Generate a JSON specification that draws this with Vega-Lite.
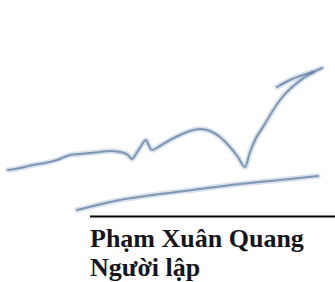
{
  "$schema": "https://vega.github.io/schema/vega-lite/v6.json",
  "width": 335,
  "height": 282,
  "padding": 0,
  "autosize": {"type": "none"},
  "background": "white",
  "config": {"view": {"stroke": null}},
  "datasets": {
    "sig": [
      {"s": "a", "i": 1, "x": 8, "y": 170},
      {"s": "a", "i": 2, "x": 20, "y": 168},
      {"s": "a", "i": 3, "x": 33, "y": 165},
      {"s": "a", "i": 4, "x": 45, "y": 163},
      {"s": "a", "i": 5, "x": 57, "y": 160},
      {"s": "a", "i": 6, "x": 70, "y": 155},
      {"s": "a", "i": 7, "x": 80, "y": 154},
      {"s": "a", "i": 8, "x": 90, "y": 153},
      {"s": "a", "i": 9, "x": 100, "y": 152},
      {"s": "a", "i": 10, "x": 110, "y": 151},
      {"s": "a", "i": 11, "x": 120, "y": 152},
      {"s": "a", "i": 12, "x": 128, "y": 155},
      {"s": "a", "i": 13, "x": 132, "y": 159},
      {"s": "a", "i": 14, "x": 136, "y": 154},
      {"s": "a", "i": 15, "x": 141, "y": 146},
      {"s": "a", "i": 16, "x": 146, "y": 140},
      {"s": "a", "i": 17, "x": 149, "y": 146},
      {"s": "a", "i": 18, "x": 152, "y": 150},
      {"s": "a", "i": 19, "x": 160, "y": 146},
      {"s": "a", "i": 20, "x": 170, "y": 140},
      {"s": "a", "i": 21, "x": 180, "y": 135},
      {"s": "a", "i": 22, "x": 190, "y": 131},
      {"s": "a", "i": 23, "x": 200, "y": 129},
      {"s": "a", "i": 24, "x": 210, "y": 131},
      {"s": "a", "i": 25, "x": 220, "y": 137},
      {"s": "a", "i": 26, "x": 230, "y": 147},
      {"s": "a", "i": 27, "x": 238, "y": 157},
      {"s": "a", "i": 28, "x": 245, "y": 167},
      {"s": "a", "i": 29, "x": 250, "y": 152},
      {"s": "a", "i": 30, "x": 256, "y": 138},
      {"s": "a", "i": 31, "x": 263, "y": 127},
      {"s": "a", "i": 32, "x": 272, "y": 112},
      {"s": "a", "i": 33, "x": 280, "y": 100},
      {"s": "a", "i": 34, "x": 290, "y": 89},
      {"s": "a", "i": 35, "x": 297, "y": 83},
      {"s": "a", "i": 36, "x": 310, "y": 74},
      {"s": "a", "i": 37, "x": 322, "y": 68},
      {"s": "b", "i": 1, "x": 277, "y": 87},
      {"s": "b", "i": 2, "x": 290, "y": 80},
      {"s": "b", "i": 3, "x": 313, "y": 72},
      {"s": "c", "i": 1, "x": 77, "y": 210},
      {"s": "c", "i": 2, "x": 85, "y": 208},
      {"s": "c", "i": 3, "x": 120, "y": 200},
      {"s": "c", "i": 4, "x": 160, "y": 194},
      {"s": "c", "i": 5, "x": 200, "y": 189},
      {"s": "c", "i": 6, "x": 240, "y": 184},
      {"s": "c", "i": 7, "x": 280, "y": 180},
      {"s": "c", "i": 8, "x": 318, "y": 176}
    ],
    "rule": [{"x": 90, "x2": 335, "y": 216.5}],
    "labels": [
      {"x": 90, "y": 247, "t": "Phạm Xuân Quang"},
      {"x": 90, "y": 276, "t": "Người lập"}
    ]
  },
  "layer": [
    {
      "data": {"name": "sig"},
      "mark": {"type": "line", "interpolate": "monotone", "color": "#7d9cc0", "strokeWidth": 5.5, "opacity": 0.3, "strokeCap": "round"},
      "encoding": {
        "x": {"field": "x", "type": "quantitative", "scale": {"domain": [0, 335], "nice": false, "zero": false}, "axis": null},
        "y": {"field": "y", "type": "quantitative", "scale": {"domain": [282, 0], "nice": false, "zero": false}, "axis": null},
        "detail": {"field": "s"},
        "order": {"field": "i"}
      }
    },
    {
      "data": {"name": "sig"},
      "mark": {"type": "line", "interpolate": "monotone", "color": "#607c9f", "strokeWidth": 2, "opacity": 0.75, "strokeCap": "round"},
      "encoding": {
        "x": {"field": "x", "type": "quantitative", "scale": {"domain": [0, 335], "nice": false, "zero": false}, "axis": null},
        "y": {"field": "y", "type": "quantitative", "scale": {"domain": [282, 0], "nice": false, "zero": false}, "axis": null},
        "detail": {"field": "s"},
        "order": {"field": "i"}
      }
    },
    {
      "data": {"name": "rule"},
      "mark": {"type": "rule", "color": "#000000", "strokeWidth": 2},
      "encoding": {
        "x": {"field": "x", "type": "quantitative"},
        "x2": {"field": "x2"},
        "y": {"field": "y", "type": "quantitative"}
      }
    },
    {
      "data": {"name": "labels"},
      "mark": {"type": "text", "align": "left", "baseline": "alphabetic", "font": "Liberation Serif", "fontWeight": "bold", "fontSize": 26, "color": "#15151c"},
      "encoding": {
        "x": {"field": "x", "type": "quantitative"},
        "y": {"field": "y", "type": "quantitative"},
        "text": {"field": "t"}
      }
    }
  ]
}
